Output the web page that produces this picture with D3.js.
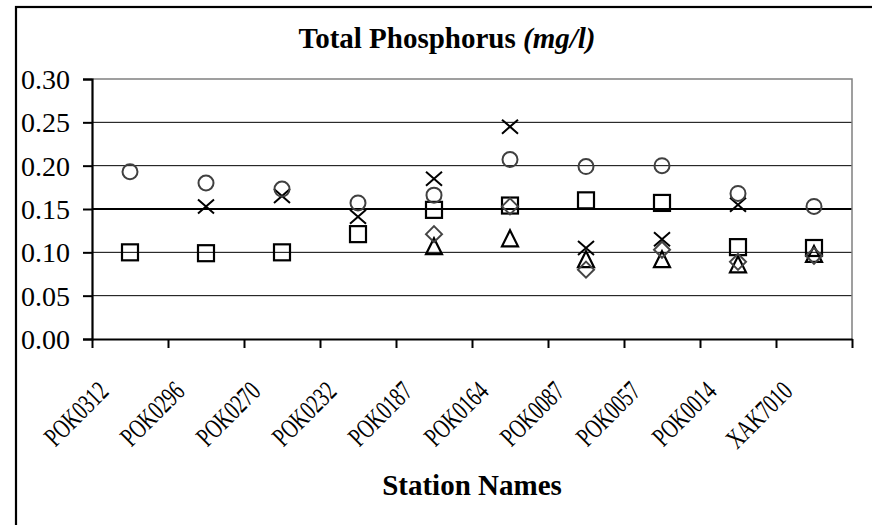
<!DOCTYPE html>
<html>
<head>
<meta charset="utf-8">
<script src="https://cdn.jsdelivr.net/npm/d3@7"></script>
<style>
  html, body { margin: 0; padding: 0; background: #fff; }
  svg { display: block; }
  text { font-family: "Liberation Serif", "Times New Roman", serif; fill: #000; }
</style>
</head>
<body>
<svg id="chart" width="872" height="525"></svg>
<script>
// ---- data ----
const categories = ["POK0312","POK0296","POK0270","POK0232","POK0187","POK0164","POK0087","POK0057","POK0014","XAK7010"];
const circleSeries   = [0.193, 0.180, 0.173, 0.157, 0.166, 0.207, 0.199, 0.200, 0.168, 0.153];
const squareSeries   = [0.100, 0.099, 0.100, 0.121, 0.149, 0.154, 0.160, 0.157, 0.106, 0.105];
const crossSeries    = [null,  0.153, 0.165, 0.141, 0.185, 0.245, 0.105, 0.115, 0.155, null];
const triangleSeries = [null,  null,  null,  null,  0.106, 0.115, 0.091, 0.091, 0.085, 0.097];
const diamondSeries  = [null,  null,  null,  null,  0.121, 0.153, 0.080, 0.103, 0.089, 0.096];
const yTicks = [0.00, 0.05, 0.10, 0.15, 0.20, 0.25, 0.30];
const yTickLabels = ["0.00","0.05","0.10","0.15","0.20","0.25","0.30"];
const titleMain = "Total Phosphorus ";
const titleUnit = "(mg/l)";
const xTitle = "Station Names";

// ---- layout ----
const svg = d3.select("#chart");
const L = 92, R = 852, T = 79, B = 339;
const FONT = "Liberation Serif, Times New Roman, serif";

const x = d3.scaleBand().domain(categories).range([L, R]).padding(0);
const xEdges = d3.scaleLinear().domain([0, categories.length]).range([L, R]);
const y = d3.scaleLinear().domain([0, 0.30]).range([B, T]);

// outer frame
svg.append("rect").attr("x", 16).attr("y", 7).attr("width", 900).attr("height", 600)
  .attr("fill", "none").attr("stroke", "#000").attr("stroke-width", 2.2);

// gridlines
svg.append("g").selectAll("line").data(yTicks.filter(v => v > 0 && v < 0.30)).join("line")
  .attr("x1", L).attr("x2", R)
  .attr("y1", d => y(d)).attr("y2", d => y(d))
  .attr("stroke", "#000")
  .attr("stroke-width", d => Math.abs(d - 0.15) < 1e-9 ? 2.2 : 1);

// plot area top/right border (gray)
svg.append("path")
  .attr("d", `M${L},${y(0.30)}H${R}V${B}`)
  .attr("fill", "none").attr("stroke", "#808080").attr("stroke-width", 1.5);

// y axis
const yAxis = svg.append("g").attr("transform", `translate(${L},0)`)
  .call(d3.axisLeft(y).tickValues(yTicks).tickFormat((d, i) => yTickLabels[i]).tickSize(9).tickPadding(12));
yAxis.attr("font-family", FONT);
yAxis.select(".domain").attr("stroke", "#000").attr("stroke-width", 2.2);
yAxis.selectAll(".tick line").attr("stroke", "#000").attr("stroke-width", 2);
yAxis.selectAll(".tick text")
  .attr("font-size", 28)
  .attr("x", -22).attr("dy", "0.34em")
  .attr("fill", "#000");

// x axis (ticks between categories)
const xAxis = svg.append("g").attr("transform", `translate(0,${B})`)
  .call(d3.axisBottom(xEdges).tickValues(d3.range(categories.length + 1)).tickFormat("").tickSize(9).tickSizeOuter(0));
xAxis.select(".domain").attr("stroke", "#000").attr("stroke-width", 2.2);
xAxis.selectAll(".tick line").attr("stroke", "#000").attr("stroke-width", 2);

// x labels rotated
svg.append("g").selectAll("text").data(categories).join("text")
  .attr("transform", d => `translate(${x(d) + x.bandwidth() / 2 - 20},${393}) rotate(-45) scale(0.88,1.25)`)
  .attr("text-anchor", "end")
  .attr("font-size", 22)
  .text(d => d);

// title
const title = svg.append("text")
  .attr("x", 447).attr("y", 48)
  .attr("text-anchor", "middle").attr("font-size", 29).attr("font-weight", "bold");
title.append("tspan").text(titleMain);
title.append("tspan").attr("font-style", "italic").text(titleUnit);

// x title (centred on plot area)
svg.append("text")
  .attr("x", (L + R) / 2).attr("y", 495)
  .attr("text-anchor", "middle").attr("font-size", 29).attr("font-weight", "bold")
  .text(xTitle);

// ---- markers ----
const cx = i => x(categories[i]) + x.bandwidth() / 2;
const valid = arr => arr.map((v, i) => ({ v, i })).filter(d => d.v != null);
const mk = svg.append("g");

mk.append("g").selectAll("rect").data(valid(squareSeries)).join("rect")
  .attr("x", d => cx(d.i) - 8).attr("y", d => y(d.v) - 8)
  .attr("width", 16).attr("height", 16)
  .attr("fill", "none").attr("stroke", "#000").attr("stroke-width", 2.2);

mk.append("g").selectAll("path").data(valid(triangleSeries)).join("path")
  .attr("d", d => { const px = cx(d.i), py = y(d.v); return `M${px},${py - 9}L${px + 8},${py + 7}L${px - 8},${py + 7}Z`; })
  .attr("fill", "none").attr("stroke", "#000").attr("stroke-width", 2.2).attr("stroke-linejoin", "miter");

mk.append("g").selectAll("path").data(valid(diamondSeries)).join("path")
  .attr("d", d => { const px = cx(d.i), py = y(d.v); return `M${px},${py - 8}L${px + 8},${py}L${px},${py + 8}L${px - 8},${py}Z`; })
  .attr("fill", "none").attr("stroke", "#444").attr("stroke-width", 2);

mk.append("g").selectAll("path").data(valid(crossSeries)).join("path")
  .attr("d", d => { const px = cx(d.i), py = y(d.v); return `M${px - 8},${py - 7}L${px + 8},${py + 7}M${px + 8},${py - 7}L${px - 8},${py + 7}`; })
  .attr("fill", "none").attr("stroke", "#000").attr("stroke-width", 2);

mk.append("g").selectAll("circle").data(valid(circleSeries)).join("circle")
  .attr("cx", d => cx(d.i)).attr("cy", d => y(d.v)).attr("r", 7.5)
  .attr("fill", "none").attr("stroke", "#404040").attr("stroke-width", 2);
</script>
</body>
</html>
